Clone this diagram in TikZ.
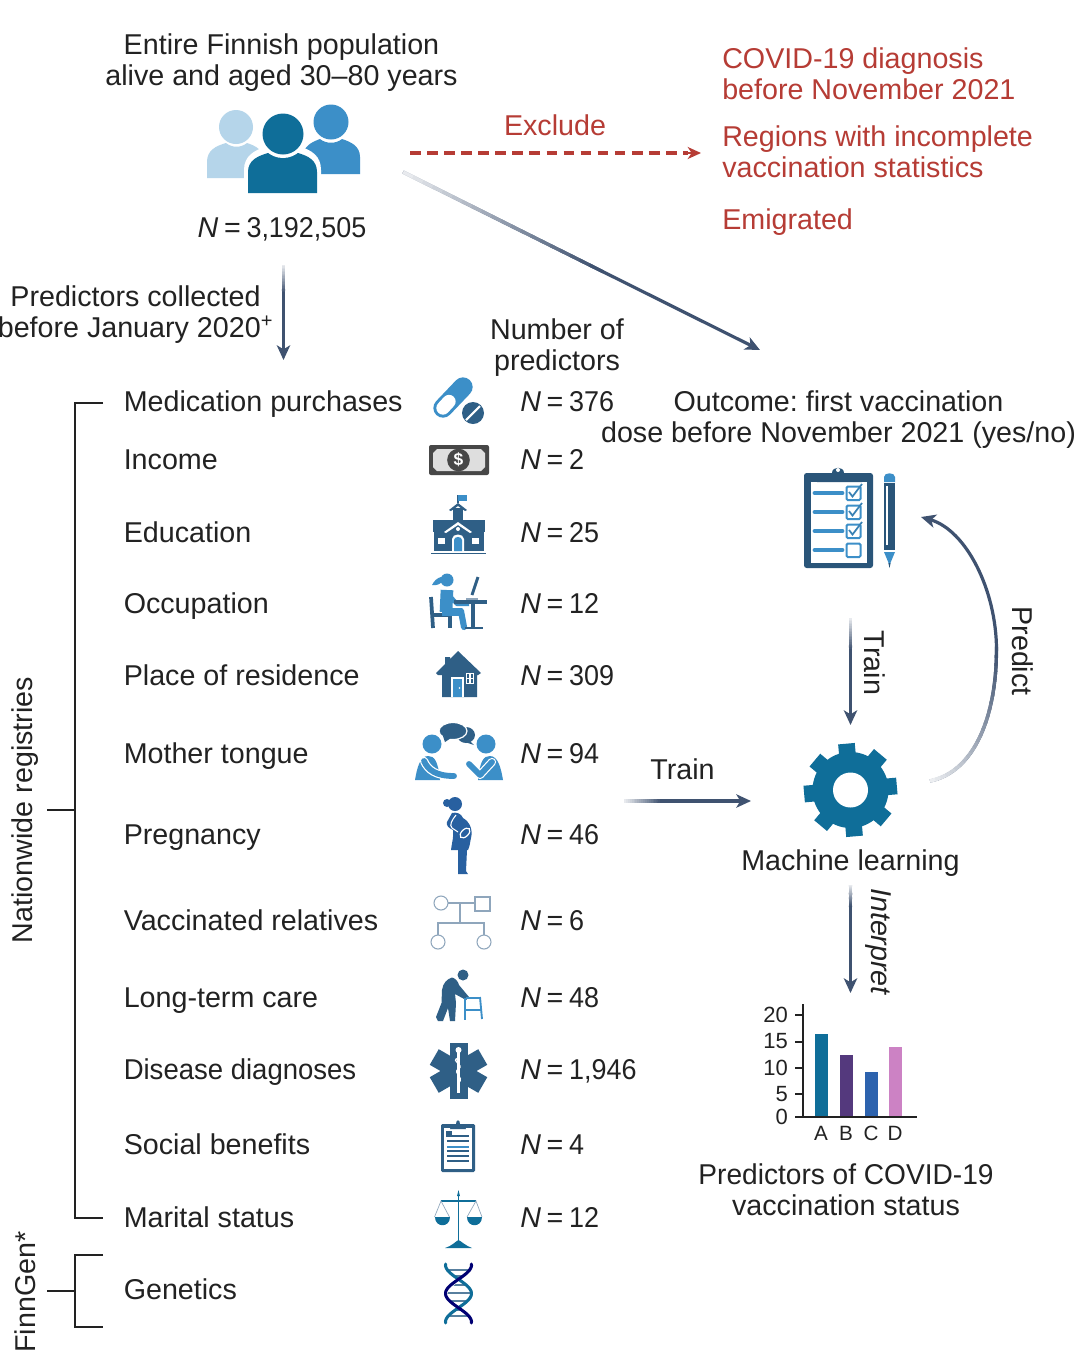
\documentclass[tikz,border=0pt]{standalone}
\usepackage{fontspec}
\setmainfont{Liberation Sans}
\usetikzlibrary{calc,arrows.meta}
\definecolor{ink}{HTML}{222222}
\definecolor{redc}{HTML}{B63C35}
\definecolor{arrowc}{HTML}{3F5270}
\definecolor{slate}{HTML}{2F5F86}
\definecolor{midb}{HTML}{3C8FC8}
\definecolor{teal}{HTML}{0F6E99}
\definecolor{lightb}{HTML}{B5D5EA}
\definecolor{thinb}{HTML}{8FA6BC}
\definecolor{barb}{HTML}{54397D}
\definecolor{barc}{HTML}{2D63AE}
\definecolor{bard}{HTML}{CC82C4}
\definecolor{preg}{HTML}{2860A0}
\newcommand\fs{\fontsize{21.5}{23.25}\selectfont\frenchspacing}
\newcommand\NN[1]{\textit{N}\hspace{4.3pt}=\hspace{4.3pt}\scalebox{0.94}[1]{#1}}
\newcommand\fadeline[3]{%
  \foreach \i in {0,...,19}{%
    \pgfmathsetmacro\ss{\i/20*#3}%
    \pgfmathsetmacro\ee{(\i+1.4)/20*#3}%
    \pgfmathsetmacro\pp{12+88*\i/19}%
    \pgfmathsetmacro\ww{2.4+0.4*(1-\i/19)}%
    \draw[line width=\ww pt,color=arrowc!\pp!white] ($(#1)!\ss!(#2)$) -- ($(#1)!\ee!(#2)$);
  }}
\tikzset{
  txt/.style={inner sep=0,font=\fs,text=ink},
  lab/.style={txt,anchor=base west},
  mid/.style={txt,anchor=base},
  multi/.style={txt,align=center,anchor=center},
  red/.style={lab,text=redc},
  bracket/.style={draw=ink,line width=0.8pt},
  conn/.style={draw=arrowc,line width=2.4pt,-{Stealth[length=11pt,width=10pt,inset=3pt]}},
  tick/.style={inner sep=0,font=\fontsize{16.5}{18}\selectfont,text=ink},
}
\begin{document}
\begin{tikzpicture}[x=0.75pt,y=-0.75pt]
\useasboundingbox (0,0) rectangle (1074,1365);
\fill[white] (0,0) rectangle (1074,1365);

% ---- header texts
\node[multi] (title) at (281.5,63) {Entire Finnish population\\alive and aged 30–80 years};
\node[mid] (total) at (282,237) {\NN{3,192,505}};
\node[multi] (collected) at (135.5,315) {Predictors collected\\before January 2020\textsuperscript{+}};
\node[multi] (number) at (557,348) {Number of\\predictors};
\node[mid] (excl) at (555,135) {\textcolor{redc}{Exclude}};
\node[red] (r1) at (722,68) {COVID-19 diagnosis};
\node[red] (r2) at (722,99) {before November 2021};
\node[red] (r3) at (722,146) {Regions with incomplete};
\node[red] (r4) at (722,177) {vaccination statistics};
\node[red] (r5) at (722,229) {Emigrated};
\node[multi] (outcome) at (838.5,420) {Outcome: first vaccination\\dose before November 2021 (yes/no)};

% ---- people icon
\fill[lightb] (207,178) -- (207,162) .. controls (207,150) and (216,146) .. (226,143) .. controls (232,148) and (241,148) .. (247,143) .. controls (256,146) and (264,150) .. (264,162) -- (264,178) -- cycle;
\fill[lightb] (236,127) circle (17);
\fill[midb] (303,174) -- (303,157) .. controls (303,146) and (312,142) .. (320,139) .. controls (326,144) and (336,144) .. (342,139) .. controls (351,142) and (360,146) .. (360,157) -- (360,174) -- cycle;
\fill[midb] (331,122) circle (17.5);
\fill[white] (244,198) -- (244,170) .. controls (244,156) and (254,150) .. (268,146) -- (298,146) .. controls (312,150) and (321,156) .. (321,170) -- (321,198) -- cycle;
\fill[teal] (248,193) -- (248,172) .. controls (248,160) and (258,156) .. (268,153) -- (298,153) .. controls (308,156) and (317,160) .. (317,172) -- (317,193) -- cycle;
\fill[white] (283,134) circle (24);
\fill[teal] (283,134) circle (20.5);

% ---- brackets
\coordinate (bt) at (75,403); \coordinate (btt) at (103,403);
\coordinate (bb) at (75,1218); \coordinate (bbt) at (103,1218);
\coordinate (bm) at (75,810); \coordinate (bmt) at (47,810);
\draw[bracket] (btt) -- (bt) -- (bb) -- (bbt);
\draw[bracket] (bm) -- (bmt);
\coordinate (ft) at (75,1255); \coordinate (ftt) at (103,1255);
\coordinate (fb) at (75,1327); \coordinate (fbt) at (103,1327);
\coordinate (fm) at (75,1291); \coordinate (fmt) at (47,1291);
\draw[bracket] (ftt) -- (ft) -- (fb) -- (fbt);
\draw[bracket] (fm) -- (fmt);
\node[txt,rotate=90] (nation) at (25,810) {Nationwide registries};
\node[txt,rotate=90] (finn) at (25,1292) {FinnGen*};

% ---- rows
\foreach \nm/\y/\t in {a/411/Medication purchases,b/469/Income,c/542/Education,d/613/Occupation,e/685/Place of residence,f/763/Mother tongue,g/844/Pregnancy,h/930/Vaccinated relatives,k/1007/Long-term care,m/1154/Social benefits,n/1227/Marital status,o/1299/Genetics}
  \node[lab] (lab\nm) at (123.5,\y) {\t};
\node[lab] (labl) at (123.5,1079) {\scalebox{0.96}[1]{Disease diagnoses}};
\node[lab] (na) at (520,411) {\NN{376}};
\node[lab] (nb) at (520,469) {\NN{2}};
\node[lab] (nc) at (520,542) {\NN{25}};
\node[lab] (nd) at (520,613) {\NN{12}};
\node[lab] (ne) at (520,685) {\NN{309}};
\node[lab] (nf) at (520,763) {\NN{94}};
\node[lab] (ng) at (520,844) {\NN{46}};
\node[lab] (nh) at (520,930) {\NN{6}};
\node[lab] (nk) at (520,1007) {\NN{48}};
\node[lab] (nl) at (520,1079) {\NN{1,946}};
\node[lab] (nm) at (520,1154) {\NN{4}};
\node[lab] (nn) at (520,1227) {\NN{12}};

% ---- pill
\draw[midb,line width=14.5pt,line cap=round] (443,408) -- (463,387);
\draw[white,line width=10pt,line cap=round] (443,408) -- (449,401.5);
\fill[slate] (473,413) circle (11);
\draw[white,line width=1.6pt] (466,420) -- (480,406);

% ---- money
\fill[black!72,rounded corners=1.5] (429,445) rectangle (489,475);
\fill[black!13] (437,449) -- (481,449) -- (485,453) -- (485,467) -- (481,471) -- (437,471) -- (433,467) -- (433,453) -- cycle;
\node[circle,fill=black!72,minimum size=17pt,inner sep=0,text=white,font=\bfseries\fontsize{13}{13}\selectfont] (dollar) at (458.5,460) {\$};

% ---- school
\fill[slate] (433,520) rectangle (485,532);
\fill[slate] (434,532) rectangle (484,551);
\draw[slate,line width=1.2pt] (431,553.5) -- (486,553.5);
\fill[slate] (453,508) rectangle (463,520);
\fill[slate] (449,510) -- (458,503) -- (467,510) -- (465,511) -- (458,506) -- (451,511) -- cycle;
\draw[slate,line width=0.8pt] (458,503) -- (458,495);
\fill[midb] (458,495) rectangle (467,501);
\fill[white] (444,532) -- (458,522) -- (472,532) -- (470,533) -- (458,525) -- (446,533) -- cycle;
\fill[white] (458,529) circle (2);
\fill[white] (452,551) -- (452,539) .. controls (452,533) and (464,533) .. (464,539) -- (464,551) -- cycle;
\fill[midb] (454,551) -- (454,540) .. controls (454,536) and (462,536) .. (462,540) -- (462,551) -- cycle;
\fill[white] (438,538) rectangle (445,544);
\fill[white] (472,538) rectangle (479,544);

% ---- occupation
\fill[midb] (447,580) circle (6.5);
\fill[midb] (441,577) .. controls (437,578) and (434,581) .. (432,585) .. controls (436,586) and (440,584) .. (442,582) -- cycle;
\draw[slate,line width=2.8pt] (431,597) -- (433,628);
\draw[slate,line width=2.4pt] (433,615) -- (450,615) -- (450,628);
\draw[midb,line width=9.5pt] (447,590) -- (446,612);
\draw[midb,line width=6.5pt] (442,612) -- (462,612);
\draw[midb,line width=4.6pt,line cap=round] (461,611) -- (464,627);
\draw[midb,line width=3.2pt,line join=round] (449,595) -- (457,604) -- (469,604);
\draw[slate,line width=3.2pt] (454,602) -- (487,602);
\draw[slate,line width=3.6pt] (473,602) -- (473,627);
\draw[slate,line width=2.2pt] (465,628) -- (483,628);
\draw[slate,line width=2.2pt] (478,577) -- (472,595);
\draw[thinb,line width=1pt] (466,599) -- (478,599);

% ---- house
\fill[slate] (458,651) -- (481,673) -- (478,675) -- (477,675) -- (477,697) -- (442,697) -- (442,675) -- (438,675) -- (436,673) -- (445,664) -- (445,657) -- (450,657) -- (450,659) -- cycle;
\fill[white] (451,677) rectangle (464,697);
\fill[midb] (453,679) rectangle (462,697);
\fill[white] (459.5,688) circle (0.9);
\fill[white] (465.5,673) rectangle (474,684);
\fill[slate] (466.8,674.2) rectangle (469,678); \fill[slate] (470.5,674.2) rectangle (472.8,678);
\fill[slate] (466.8,679.4) rectangle (469,682.8); \fill[slate] (470.5,679.4) rectangle (472.8,682.8);

% ---- mother tongue
\fill[midb] (432,744) circle (9.5);
\fill[midb] (486,744) circle (9.5);
\fill[midb] (415,780) .. controls (417,768) and (420,756) .. (428,756) .. controls (434,756) and (438,760) .. (440,780) -- cycle;
\fill[midb] (503,780) .. controls (501,768) and (498,756) .. (490,756) .. controls (484,756) and (480,760) .. (478,780) -- cycle;
\draw[white,line width=6.2pt,line cap=round] (424,761) .. controls (428,770) and (436,776) .. (454,776);
\draw[midb,line width=4.4pt,line cap=round] (424,761) .. controls (428,770) and (436,776) .. (454,776);
\draw[white,line width=6.2pt,line cap=round,line join=round] (469,764) -- (480,775) -- (492,762);
\draw[midb,line width=4.4pt,line cap=round,line join=round] (469,764) -- (480,775) -- (492,762);
\fill[slate] (466,735) ellipse (9 and 8);
\fill[slate] (470,741) -- (474,745) -- (465,742) -- cycle;
\draw[white,line width=0.9pt,fill=slate] (453,731) ellipse (14 and 8.5);
\fill[slate] (443,736) -- (445,742) -- (451,738) -- cycle;

% ---- pregnant
\fill[preg] (455,804) circle (7);
\fill[preg] (447,803) circle (4);
\fill[preg] (452,813) .. controls (456,812) and (461,813) .. (463,818) .. controls (470,822) and (473,830) .. (471,838) .. controls (470,842) and (470,846) .. (468,850) -- (467,850) -- (466,871) -- (468,874) -- (458,874) -- (458,850) -- (451,850) .. controls (452,842) and (454,836) .. (453,830) .. controls (449,828) and (446,826) .. (447,822) -- cycle;
\draw[white,line width=0.8pt] (456,815) .. controls (452,820) and (449,825) .. (452,828) -- (458,832);
\draw[white,line width=0.9pt,rotate around={45:(465,833)}] (465,833) ellipse (6 and 3.5);

% ---- vaccinated relatives
\begin{scope}[draw=thinb,line width=0.8pt]
\coordinate (hp1) at (441,903); \coordinate (hp2) at (475,903);
\coordinate (hm) at (460,903); \coordinate (hb) at (460,923);
\draw (441,903) circle (7);
\draw (475,897) rectangle (490,911);
\draw (448,903) -- (hp2);
\draw (hm) -- (hb);
\draw (438,935) -- (438,923) -- (484,923) -- (484,935);
\draw (438,942) circle (7);
\draw (484,942) circle (7);
\end{scope}

% ---- long-term care
\fill[slate] (463,975) circle (5.5);
\fill[slate] (452,977.5) .. controls (447,979) and (443,983) .. (442,990) -- (441.5,1003) -- (436,1017) -- (438,1021) -- (443,1021) -- (448,1008) -- (450,1021) -- (455,1021) -- (456,1003) -- (455,994) -- (466,1000) -- (469,997) -- (459,985) .. controls (458,981) and (455,978) .. (452,977.5) -- cycle;
\begin{scope}[draw=midb,line width=1.4pt]
\draw (465,998) -- (465,1020);
\draw (480,997) -- (482,1019);
\draw (466,998) -- (480,998);
\draw (465,1010) -- (481,1010);
\end{scope}

% ---- star of life
\coordinate (st) at (458.5,1071);
\foreach \a in {90,30,150}
  \draw[slate,line width=13.5pt] ($(st)+(\a:28)$) -- ($(st)+(\a+180:28)$);
\draw[white,line width=1.6pt] (458.5,1052) -- (458.5,1093);
\fill[white] (458.5,1050) circle (3);
\draw[white,line width=1pt] (458,1058) .. controls (450,1061) and (465,1065) .. (458.5,1069) .. controls (452,1073) and (465,1077) .. (458.5,1083);

% ---- clipboard small
\fill[slate,rounded corners=1] (441,1124) rectangle (475,1172);
\fill[white] (444,1128) rectangle (472,1168.5);
\fill[slate] (450,1129) -- (452,1124) -- (456,1124) .. controls (456,1119) and (460,1119) .. (460,1124) -- (464,1124) -- (466,1129) -- cycle;
\fill[slate] (446,1131) rectangle (452,1137);
\foreach \yy/\cc in {1136/slate,1141/slate,1147/midb,1151/slate,1156/slate,1161/slate}
  \draw[\cc,line width=1pt] (447,\yy) -- (469,\yy);

% ---- scales
\draw[teal,line width=1.4pt] (458.5,1193) -- (458.5,1243);
\fill[teal] (458.5,1190) -- (460,1196) -- (457,1196) -- cycle;
\draw[teal,line width=1pt] (441,1201) -- (476,1201);
\fill[teal] (445,1248) .. controls (452,1246) and (456,1241) .. (458.5,1240) .. controls (461,1241) and (466,1246) .. (472,1248) -- cycle;
\draw[thinb,line width=0.5pt] (434.5,1217) -- (441,1201) -- (449.5,1217);
\draw[thinb,line width=0.5pt] (467,1217) -- (476,1201) -- (482,1217);
\fill[teal] (434.5,1217) .. controls (434.5,1228) and (449.5,1228) .. (449.5,1217) -- cycle;
\fill[teal] (467,1217) .. controls (467,1228) and (482,1228) .. (482,1217) -- cycle;

% ---- DNA
\foreach \yy in {1270,1276,1285,1293,1301,1310,1316}
  \draw[slate!80,line width=0.9pt] ({458.5-13*cos((\yy-1265)/57*360)},\yy) -- ({458.5+13*cos((\yy-1265)/57*360)},\yy);
\draw[teal,line width=2.3pt,line cap=round] plot[smooth,domain=1264:1323,samples=40,variable=\tv] ({458.5-13*cos((\tv-1265)/57*360)},\tv);
\draw[white,line width=3.2pt] plot[smooth,domain=1282:1300,samples=12,variable=\tv] ({458.5+13*cos((\tv-1265)/57*360)},\tv);
\draw[blue!45!black,line width=2.3pt,line cap=round] plot[smooth,domain=1264:1323,samples=40,variable=\tv] ({458.5+13*cos((\tv-1265)/57*360)},\tv);

% ---- big clipboard
\fill[slate!90!black,rounded corners=2] (804,473) rectangle (873,568);
\fill[white] (811,482) rectangle (867,563);
\fill[slate!90!black] (817,482) .. controls (817,475) and (825,473) .. (832,473) .. controls (832,466) and (844,466) .. (844,473) .. controls (852,473) and (861,475) .. (862,482) -- cycle;
\fill[white] (838,470) circle (2);
\foreach \yy in {493,512,531,550}{
  \draw[midb,line width=3.7pt,line cap=round] (815,\yy) -- (842,\yy);
  \draw[midb,line width=1.5pt,rounded corners=1] (846.5,\yy-6.5) rectangle (860.5,\yy+7);
}
\foreach \yy in {493,512,531}
  \draw[midb!70!slate,line width=1.3pt] (849,\yy-1) -- (852.5,\yy+3.5) -- (862,\yy-9);
\fill[midb] (884,482) -- (884,477) .. controls (884,472) and (895,472) .. (895,477) -- (895,482) -- cycle;
\fill[slate!90!black] (884,483) rectangle (895,550);
\draw[white,line width=0.9pt] (887,486) -- (887,545);
\fill[midb] (884,552) -- (895,552) -- (890,564) -- (889,564) -- cycle;
\fill[slate!90!black] (888.4,563) -- (890.6,563) -- (889.5,568) -- cycle;

% ---- gear
\coordinate (gear) at (850.5,790);
\foreach \a in {-5,40,85,130,175,220,265,310}
  \draw[teal,line width=12.5pt] ($(gear)+(\a:30)$) -- ($(gear)+(\a:46.5)$);
\fill[teal] (gear) circle (38);
\fill[white] (gear) circle (17.5);

% ---- connectors
\coordinate (exA) at (410,153); \coordinate (exB) at (701,153);
\draw[redc,line width=2.6pt,dash pattern=on 8pt off 4.8pt] (exA) -- (688,153);
\draw[redc,line width=1.5pt,-{Stealth[length=10pt,width=9pt,inset=3pt]}] (688,153) -- (exB);

\coordinate (diA) at (403,172); \coordinate (diB) at (760,350);
\draw[conn] (diA) -- (diB);
\fadeline{diA}{diB}{0.55}

\coordinate (poA) at (283.5,265); \coordinate (poB) at (283.5,360);
\draw[conn] (poA) -- (poB);
\fadeline{poA}{poB}{0.3}

\coordinate (trA) at (850.5,618); \coordinate (trB) at (850.5,725);
\draw[conn] (trA) -- (trB);
\fadeline{trA}{trB}{0.3}

\coordinate (thA) at (624,801); \coordinate (thB) at (751,801);
\draw[conn] (thA) -- (thB);
\fadeline{thA}{thB}{0.3}

\coordinate (inA) at (850.5,885); \coordinate (inB) at (850.5,993);
\draw[conn] (inA) -- (inB);
\fadeline{inA}{inB}{0.2}

\coordinate (prA) at (930,781); \coordinate (prM) at (996.5,650); \coordinate (prB) at (921,517);
\draw[conn] (prA) .. controls (975,772) and (996.5,715) .. (prM) .. controls (996.5,590) and (966,530) .. (prB);
\foreach \i in {0,...,23}{
  \pgfmathsetmacro\ta{\i/24}
  \pgfmathsetmacro\tb{(\i+1.4)/24}
  \pgfmathsetmacro\pp{10+90*\i/23}
  \pgfmathsetmacro\ww{2.4+0.4*(1-\i/23)}
  \pgfmathsetmacro\xa{(1-\ta)^3*930+3*(1-\ta)^2*\ta*975+3*(1-\ta)*\ta^2*996.5+\ta^3*996.5}
  \pgfmathsetmacro\ya{(1-\ta)^3*781+3*(1-\ta)^2*\ta*772+3*(1-\ta)*\ta^2*715+\ta^3*650}
  \pgfmathsetmacro\xb{(1-\tb)^3*930+3*(1-\tb)^2*\tb*975+3*(1-\tb)*\tb^2*996.5+\tb^3*996.5}
  \pgfmathsetmacro\yb{(1-\tb)^3*781+3*(1-\tb)^2*\tb*772+3*(1-\tb)*\tb^2*715+\tb^3*650}
  \draw[line width=\ww pt,color=arrowc!\pp!white] (\xa,\ya) -- (\xb,\yb);
}

% ---- connector labels
\node[txt,rotate=-90] (ltrain) at (875,663) {Train};
\node[txt,rotate=-90] (lpred) at (1023,651) {Predict};
\node[mid] (ltrain2) at (682.5,779) {Train};
\node[mid] (ml) at (850.5,870) {Machine learning};
\node[txt,rotate=-90] (linterp) at (878,942) {\textit{Interpret}};

% ---- bar chart
\fill[teal] (815,1034) rectangle (828,1117);
\fill[barb] (840,1055) rectangle (853,1117);
\fill[barc] (865,1072) rectangle (878,1117);
\fill[bard] (889,1047) rectangle (902,1117);
\draw[ink,line width=0.9pt] (803,1004) -- (803,1117);
\draw[ink,line width=0.9pt] (795,1117) -- (917,1117);
\foreach \yy in {1015,1042,1068,1094}
  \draw[ink,line width=0.9pt] (795,\yy) -- (803,\yy);
\node[tick,anchor=east] (t20) at (788,1015) {20};
\node[tick,anchor=east] (t15) at (788,1041) {15};
\node[tick,anchor=east] (t10) at (788,1068) {10};
\node[tick,anchor=east] (t5) at (788,1094) {5};
\node[tick,anchor=east] (t0) at (788,1117) {0};
\node[tick,font=\fontsize{15.5}{18}\selectfont] (xa) at (821,1133) {A};
\node[tick,font=\fontsize{15.5}{18}\selectfont] (xb) at (846,1133) {B};
\node[tick,font=\fontsize{15.5}{18}\selectfont] (xc) at (871,1133) {C};
\node[tick,font=\fontsize{15.5}{18}\selectfont] (xd) at (895,1133) {D};
\node[multi] (pred) at (846,1190) {\scalebox{0.98}[1]{Predictors of COVID-19}\\vaccination status};
\end{tikzpicture}
\end{document}
